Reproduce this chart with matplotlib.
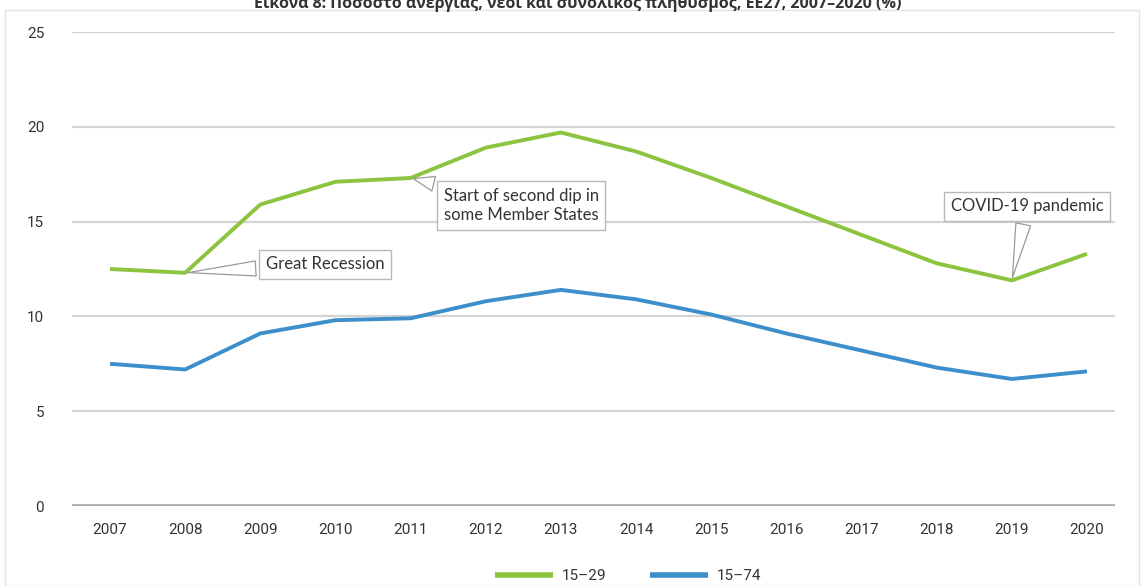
import matplotlib
matplotlib.use("Agg")
import matplotlib.pyplot as plt
from matplotlib.patches import Rectangle

years = [2007, 2008, 2009, 2010, 2011, 2012, 2013, 2014, 2015, 2016, 2017, 2018, 2019, 2020]
youth_15_29 = [12.5, 12.3, 15.9, 17.1, 17.3, 18.9, 19.7, 18.7, 17.3, 15.8, 14.3, 12.8, 11.9, 13.3]
total_15_74 = [7.5, 7.2, 9.1, 9.8, 9.9, 10.8, 11.4, 10.9, 10.1, 9.1, 8.2, 7.3, 6.7, 7.1]
series_labels = ["15–29", "15–74"]
y_ticks = [0, 5, 10, 15, 20, 25]
title = "Εικόνα 8: Ποσοστό ανεργίας, νέοι και συνολικός πληθυσμός, ΕΕ27, 2007–2020 (%)"

GREEN = "#8cc43f"
BLUE = "#3d8fcc"
narrow = ["Liberation Sans Narrow", "Roboto", "DejaVu Sans"]
ann_font = ["Lato", "DejaVu Sans"]

fig = plt.figure(figsize=(11.42, 5.86), dpi=100)
ax = fig.add_axes([72/1142, 80/586, (1115-72)/1142, (506-32)/586])

# light frame
fig.patches.append(Rectangle((5/1142, 0), 1134/1142, (586-10)/586, transform=fig.transFigure,
                             fill=False, ec="#e3e3e3", lw=1.0))

for yv in y_ticks[1:]:
    ax.axhline(yv, color="#d4d4d4", lw=1.6, zorder=1)
ax.axhline(0, color="#a8a8a8", lw=2.6, zorder=1)

ax.plot(years, youth_15_29, color=GREEN, lw=2.8, zorder=3, label=series_labels[0], solid_capstyle="butt")
ax.plot(years, total_15_74, color=BLUE, lw=2.8, zorder=3, label=series_labels[1], solid_capstyle="butt")

ax.set_xlim(2007 - 38/75.15, 2020 + 28/75.15)
ax.set_ylim(0, 25)
ax.set_xticks(years)
ax.set_xticklabels([str(y) for y in years], fontfamily=narrow, fontsize=11, color="#333333")
ax.set_yticks(y_ticks)
ax.set_yticklabels([str(v) for v in y_ticks], fontfamily=narrow, fontsize=11, color="#333333")
ax.tick_params(axis="both", length=0)
ax.tick_params(axis="x", pad=12)
ax.tick_params(axis="y", pad=20)
for s in ax.spines.values():
    s.set_visible(False)

bbox = dict(boxstyle="square,pad=0.4", fc="white", ec="#b8b8b8", lw=1.0)
arrow = dict(arrowstyle="wedge,tail_width=0.9,shrink_factor=0.5", fc="white", ec="#9a9a9a", lw=0.9)

ax.annotate("Great Recession", xy=(years[1], youth_15_29[1]), xytext=(2009.86, 12.75),
            ha="center", va="center", fontsize=12, fontfamily=ann_font, color="#333333",
            bbox=bbox, arrowprops=arrow, zorder=5)
ax.annotate("Start of second dip in\nsome Member States", xy=(years[4], youth_15_29[4]),
            xytext=(2012.47, 15.85), ha="center", va="center", multialignment="left",
            fontsize=12, fontfamily=ann_font, color="#333333", linespacing=1.3,
            bbox=bbox, arrowprops=arrow, zorder=5)
ax.annotate("COVID-19 pandemic", xy=(years[12], youth_15_29[12]), xytext=(2019.2, 15.8),
            ha="center", va="center", fontsize=12, fontfamily=ann_font, color="#333333",
            bbox=bbox, arrowprops=arrow, zorder=5)

fig.text(578/1142, 1 - 3/586, title, ha="center", va="center", fontsize=11.5,
         fontweight="bold", color="#333333", fontfamily=["Open Sans", "DejaVu Sans"])

leg = fig.legend(loc="center", bbox_to_anchor=(0.55, 10/586), ncol=2, frameon=False,
                 handlelength=3.8, columnspacing=2.8, handletextpad=0.6,
                 prop={"family": narrow, "size": 11})
for h in leg.get_lines():
    h.set_linewidth(4)
for t in leg.get_texts():
    t.set_color("#333333")

fig.savefig("out.png", dpi=100)
